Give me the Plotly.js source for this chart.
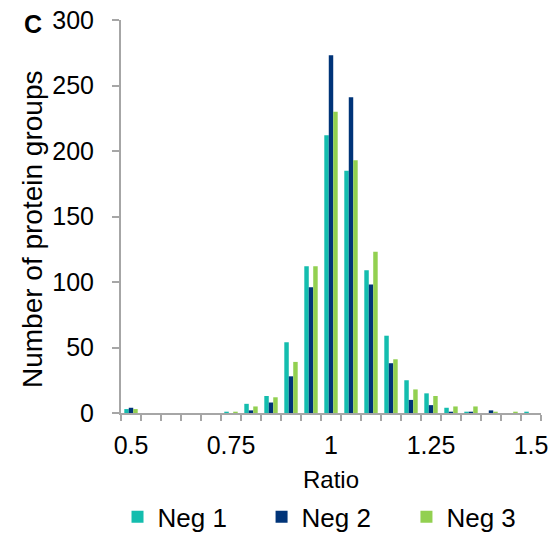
<!DOCTYPE html>
<html>
<head>
<meta charset="utf-8">
<script src="https://cdn.plot.ly/plotly-3.0.1.min.js"></script>
<style>html,body{margin:0;padding:0;background:#fff;}</style>
</head>
<body>
<div id="chart" style="width:553px;height:534px;"></div>
<script>
const ratio = [0.5,0.55,0.6,0.65,0.7,0.75,0.8,0.85,0.9,0.95,1.0,1.05,1.1,1.15,1.2,1.25,1.3,1.35,1.4,1.45,1.5];
const neg1 = [3,0,0,0,0,1,7,13,54,112,212,185,109,59,25,15,4,1,0,0,1];
const neg2 = [4,0,0,0,0,0,2,8,28,96,273,241,98,38,10,6,1,1,2,0,0];
const neg3 = [3,0,0,0,0,1,5,12,39,112,230,193,123,41,18,13,5,5,1,1,0];
const seriesNames = ['Neg 1','Neg 2','Neg 3'];
const xTickVals = [0.5,0.75,1,1.25,1.5];
const xTickText = ['0.5','0.75','1','1.25','1.5'];
const xBoundaries = [0.475,0.525,0.575,0.625,0.675,0.725,0.775,0.825,0.875,0.925,0.975,1.025,1.075,1.125,1.175,1.225,1.275,1.325,1.375,1.425,1.475,1.525];
const colors = ['#14BDAE','#003478','#92D050'];
const font = 'Arial, "Liberation Sans", Helvetica, sans-serif';
const legendIds = ['legend','legend2','legend3'];
const legendX = [0.2125, 0.473, 0.735];

const traces = [neg1,neg2,neg3].map((v,i)=>({
  type:'bar', x: ratio, y: v, name: seriesNames[i], legend: legendIds[i],
  marker:{color: colors[i]}, hoverinfo:'x+y+name'
}));

const layout = {
  width:553, height:534,
  margin:{l:121, r:12, t:20, b:121, autoexpand:false},
  barmode:'group', bargap:0.33, bargroupgap:0,
  paper_bgcolor:'#fff', plot_bgcolor:'#fff',
  font:{family:font, color:'#000', size:25},
  showlegend:true,
  xaxis:{
    range:[0.475,1.525], showgrid:false, zeroline:false,
    showline:true, linecolor:'#A6A6A6', linewidth:2,
    tickmode:'array', tickvals:xTickVals, ticktext:xTickText, ticks:'',
    ticklabelstandoff:9,
    tickfont:{size:25, family:font},
    minor:{tickmode:'array', tickvals:xBoundaries, ticks:'outside', ticklen:6, tickwidth:2, tickcolor:'#A6A6A6', showgrid:false},
    title:{text:'Ratio', font:{size:24, family:font}, standoff:18}
  },
  yaxis:{
    range:[0,300], dtick:50, showgrid:false, zeroline:false,
    showline:true, linecolor:'#A6A6A6', linewidth:2,
    ticks:'outside', ticklen:7, tickwidth:2, tickcolor:'#A6A6A6',
    ticklabelstandoff:13,
    tickfont:{size:25, family:font}
  },
  annotations:[
    {text:'<b>C</b>', xref:'paper', yref:'paper', x:-0.2095, y:0.991, xanchor:'center', yanchor:'middle', showarrow:false, font:{size:25, family:font, color:'#000'}},
    {text:'Number of protein groups', textangle:-90, xref:'paper', yref:'paper', x:-0.212, y:0.468, xanchor:'center', yanchor:'middle', showarrow:false, font:{size:28, family:font, color:'#000'}}
  ]
};
legendIds.forEach((id,i)=>{
  layout[id] = {orientation:'h', xref:'container', yref:'container', x:legendX[i], xanchor:'left',
    y:0.032, yanchor:'middle', font:{size:26, family:font}, itemwidth:30, bgcolor:'rgba(0,0,0,0)'};
});

Plotly.newPlot('chart', traces, layout, {displayModeBar:false, staticPlot:true});
</script>
</body>
</html>
